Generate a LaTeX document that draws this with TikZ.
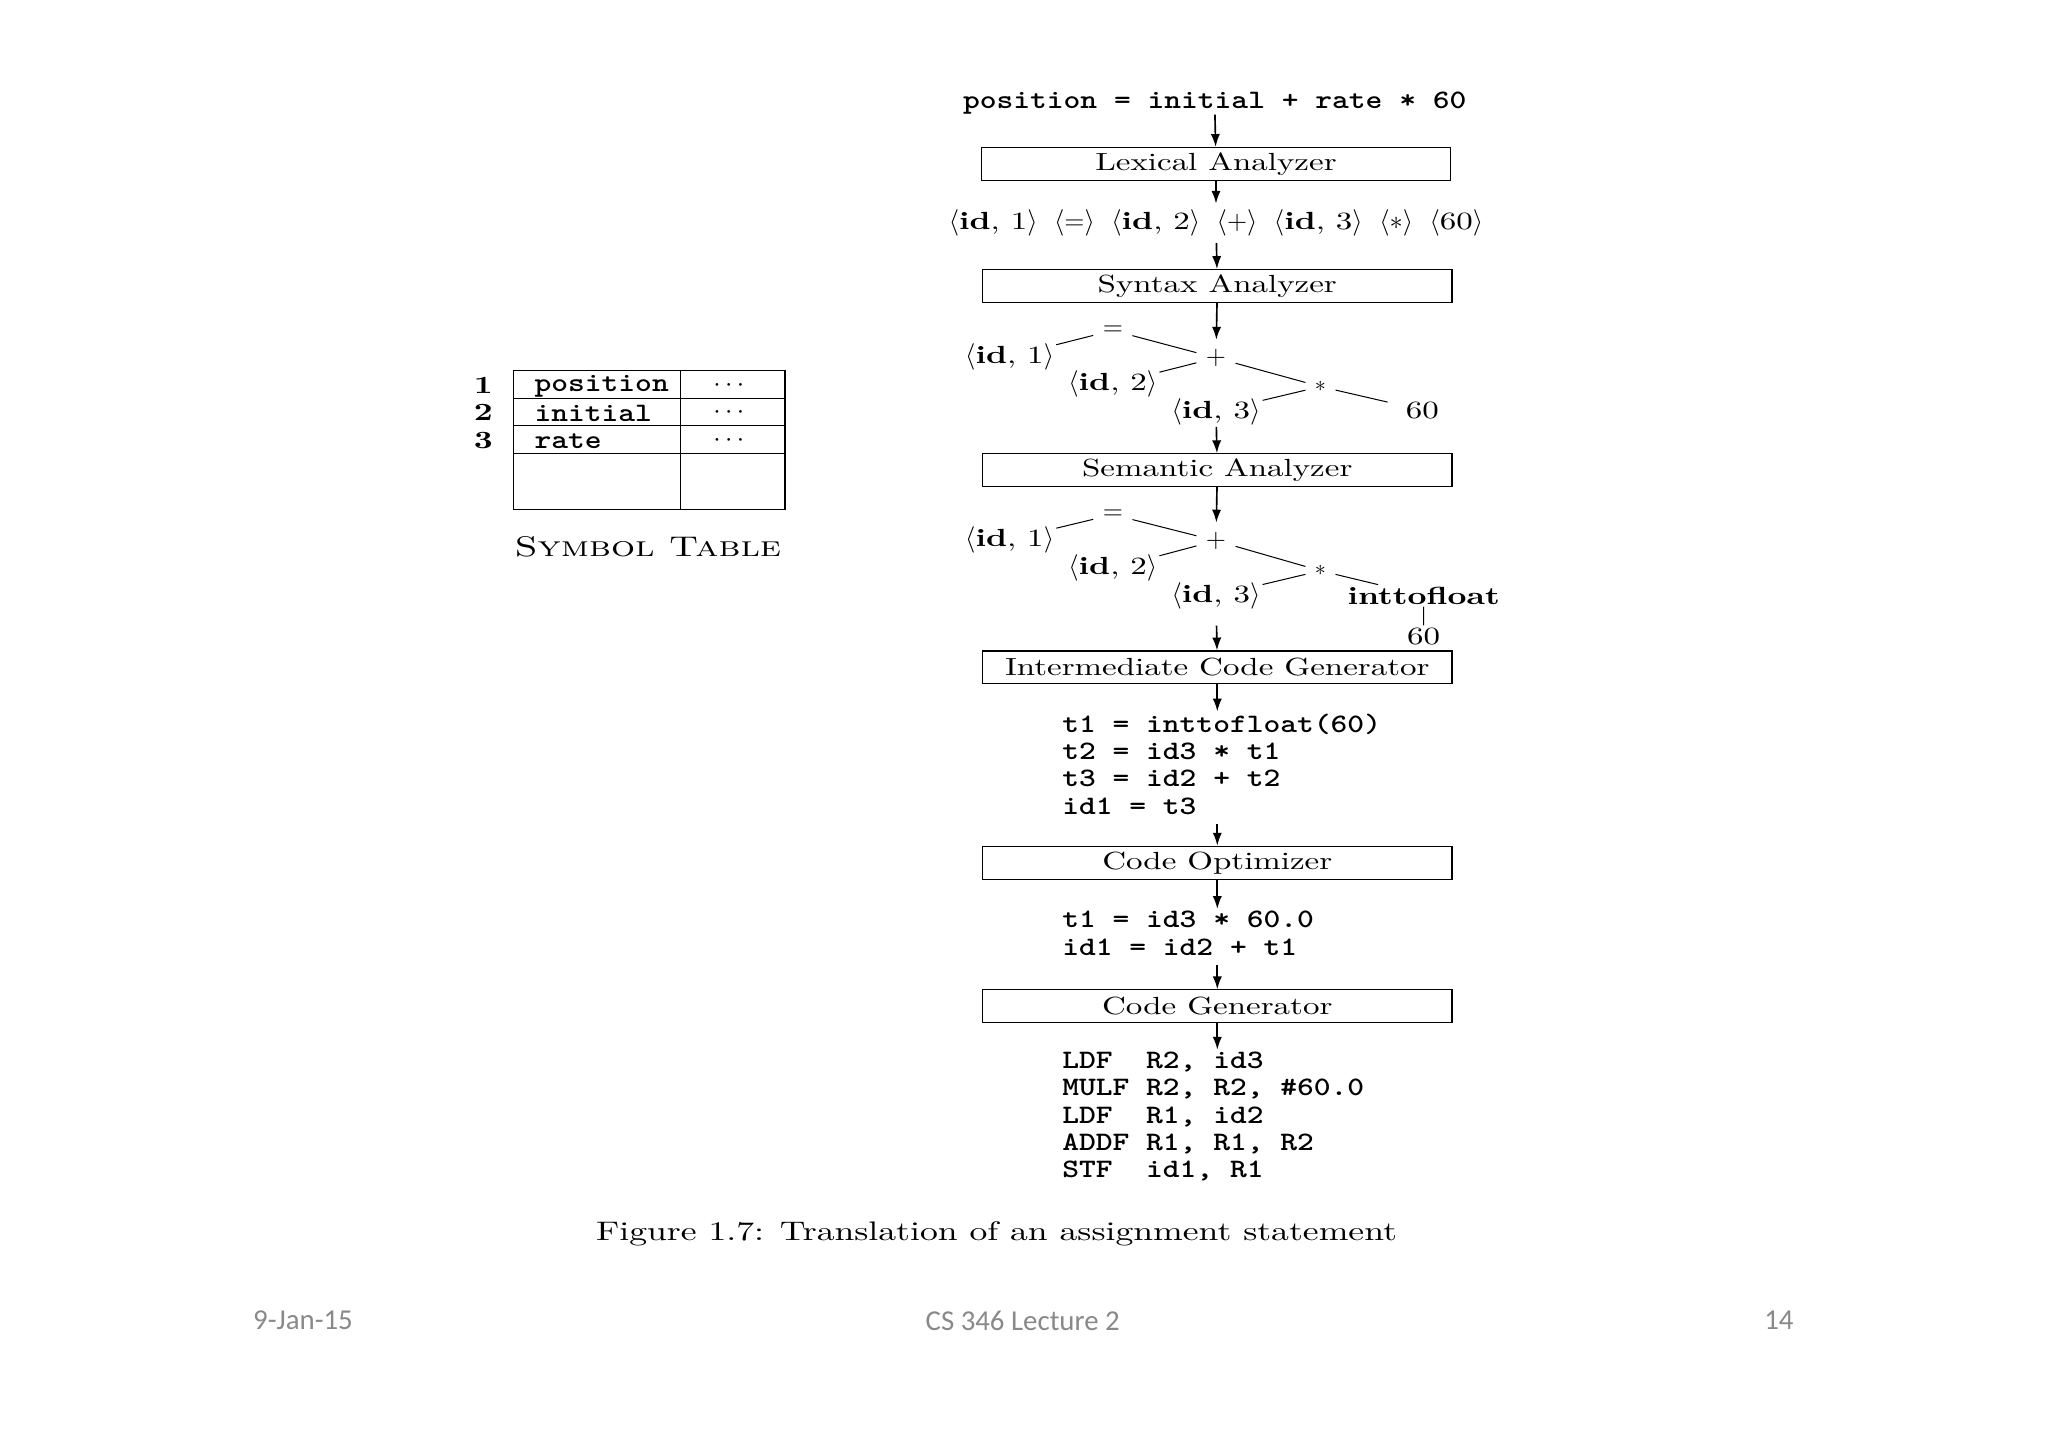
\documentclass[tikz,border=0pt]{standalone}
\usepackage{fontspec}
\usepackage{tikz}
\usetikzlibrary{arrows.meta, positioning}
\newfontfamily\figfont{lmroman10}[Extension=.otf, UprightFont=*-regular, BoldFont=*-bold, FakeStretch=1.33]
\newfontfamily\capsfont{lmromancaps10-regular.otf}[FakeStretch=1.33]
\newfontfamily\codefont{lmmonolt10-bold.otf}[FakeStretch=1.2]
\newfontfamily\footfont{Carlito}
\definecolor{footgray}{RGB}{137,137,137}
\newcommand{\figsize}{\figfont\fontsize{13.5}{16}\selectfont}
\newcommand{\codesize}{\codefont\fontsize{14.5}{14.9}\selectfont}
\newcommand{\tok}[1]{$\langle$#1$\rangle$}
\newcommand{\idtok}[1]{\tok{\textbf{id}, #1}}
\newcommand{\tokgap}{\hspace{9pt}}
\tikzset{
  stagebox/.style={rectangle, draw, line width=0.6pt,
    minimum width=8.98cm, minimum height=0.63cm, inner sep=0pt, font=\figsize},
  flow/.style={-{Latex[length=7pt,width=5pt]}, line width=0.9pt},
  opnode/.style={inner sep=5pt, font=\figsize},
  leafnode/.style={inner sep=1pt, font=\figsize},
  treeline/.style={line width=0.55pt},
  codeblock/.style={align=left, inner sep=0pt, font=\codesize},
  footer/.style={font=\footfont\fontsize{15.7}{18}\selectfont, text=footgray}
}

\begin{document}
\begin{tikzpicture}[x=0.025cm, y=-0.025cm]
  \useasboundingbox (0,0) rectangle (1568,1108);
  \fill[white] (0,0) rectangle (1568,1108);

  % statement and phases
  \node[codeblock] (src) at (930,79) {position = initial + rate * 60};
  \node[stagebox] (lex) at (931,125.5) {Lexical Analyzer};
  \node[font=\figsize] (toks) at (931,171)
    {\idtok{1}\tokgap\tok{$=$}\tokgap\idtok{2}\tokgap\tok{$+$}\tokgap\idtok{3}\tokgap\tok{$*$}\tokgap\tok{60}};
  \node[stagebox] (syn) at (932,219) {Syntax Analyzer};
  \draw[flow] (src) -- (lex);
  \draw[flow] (lex) -- (toks);
  \draw[flow] (toks) -- (syn);

  % syntax tree
  \node[opnode] (eqA) at (852,253) {$=$};
  \node[leafnode] (idA1) at (773,273) {\idtok{1}};
  \node[opnode] (plusA) at (931,274) {$+$};
  \node[leafnode] (idA2) at (852,294) {\idtok{2}};
  \node[opnode] (starA) at (1011,296) {\large$\ast$};
  \node[leafnode] (idA3) at (931,315) {\idtok{3}};
  \node[leafnode] (sixtyA) at (1089,314) {60};
  \draw[treeline] (idA1) -- (eqA) -- (plusA) -- (starA);
  \draw[treeline, shorten >=9pt] (starA) -- (sixtyA);
  \draw[treeline] (idA2) -- (plusA);
  \draw[treeline] (idA3) -- (starA);
  \draw[flow] (syn) -- (plusA);

  \node[stagebox] (sem) at (932,360) {Semantic Analyzer};
  \draw[flow] (idA3) -- (sem);

  % annotated tree
  \node[opnode] (eqB) at (852,394) {$=$};
  \node[leafnode] (idB1) at (773,413) {\idtok{1}};
  \node[opnode] (plusB) at (931,414) {$+$};
  \node[leafnode] (idB2) at (852,435) {\idtok{2}};
  \node[opnode] (starB) at (1011,437) {\large$\ast$};
  \node[leafnode] (idB3) at (931,456) {\idtok{3}};
  \node[leafnode] (convB) at (1090,456) {\textbf{inttofloat}};
  \node[leafnode] (sixtyB) at (1090,487) {60};
  \draw[treeline] (idB1) -- (eqB) -- (plusB) -- (starB) -- (convB) -- (sixtyB);
  \draw[treeline] (idB2) -- (plusB);
  \draw[treeline] (idB3) -- (starB);
  \draw[flow] (sem) -- (plusB);

  \node[stagebox] (icg) at (932,511) {Intermediate Code Generator};
  \draw[flow, shorten <=8pt] (idB3) -- (icg);

  % generated code
  \node[codeblock, anchor=west] (tac) at (813,585)
    {t1 = inttofloat(60)\\
     t2 = id3 * t1\\
     t3 = id2 + t2\\
     id1 = t3};
  \node[stagebox] (opt) at (932,660.5) {Code Optimizer};
  \node[codeblock, anchor=west] (optcode) at (813,714.5)
    {t1 = id3 * 60.0\\
     id1 = id2 + t1};
  \node[stagebox] (gen) at (932,770.5) {Code Generator};
  \node[codeblock, anchor=west] (asm) at (813,855)
    {LDF~~R2, id3\\
     MULF R2, R2, \#60.0\\
     LDF~~R1, id2\\
     ADDF R1, R1, R2\\
     STF~~id1, R1};
  \draw[flow, shorten >=1pt] (icg.south) -- (icg.south |- tac.north);
  \draw[flow, shorten <=5pt] (tac.south -| opt.north) -- (opt.north);
  \draw[flow, shorten >=1pt] (opt.south) -- (opt.south |- optcode.north);
  \draw[flow, shorten <=5pt] (optcode.south -| gen.north) -- (gen.north);
  \draw[flow, shorten >=1pt] (gen.south) -- (gen.south |- asm.north);

  % symbol table
  \draw[line width=0.6pt] (393,284) rectangle (601,390);
  \draw[line width=0.6pt] (521,284) -- (521,390);
  \draw[line width=0.6pt] (393,305) -- (601,305);
  \draw[line width=0.6pt] (393,326) -- (601,326);
  \draw[line width=0.6pt] (393,347) -- (601,347);
  \node[font=\figsize\bfseries] (n1) at (370,295) {1};
  \node[font=\figsize\bfseries] (n2) at (370,316) {2};
  \node[font=\figsize\bfseries] (n3) at (370,337) {3};
  \node[codeblock, anchor=west] (e1) at (409,295.5) {position};
  \node[codeblock, anchor=west] (e2) at (409,316.5) {initial};
  \node[codeblock, anchor=west] (e3) at (409,337.5) {rate};
  \node[font=\figsize] (d1) at (558,295) {$\cdots$};
  \node[font=\figsize] (d2) at (558,316) {$\cdots$};
  \node[font=\figsize] (d3) at (558,337) {$\cdots$};
  \node[font=\capsfont\fontsize{15.5}{18}\selectfont] (symtab) at (496,419) {Symbol Table};

  % caption and footer
  \node[font=\figfont\fontsize{14.6}{17}\selectfont] (caption) at (763,945)
    {Figure 1.7: Translation of an assignment statement};
  \node[footer] (date) at (232,1011) {9-Jan-15};
  \node[footer] (course) at (783,1011) {CS 346 Lecture 2};
  \node[footer] (page) at (1362,1011) {14};
\end{tikzpicture}
\end{document}
